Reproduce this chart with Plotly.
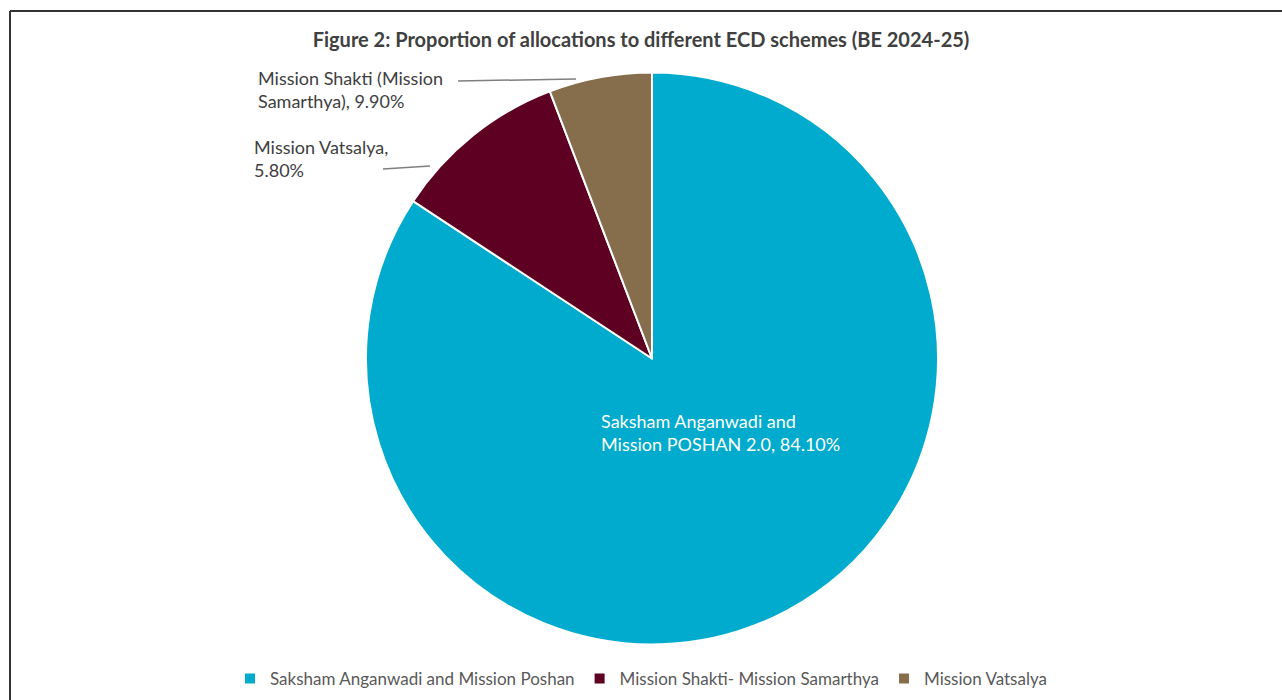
import textwrap
import plotly.graph_objects as go

# Scheme allocations, BE 2024-25 (share of total ECD allocation, %)
legend_names = [
    "Saksham Anganwadi and Mission Poshan",
    "Mission Shakti- Mission Samarthya",
    "Mission Vatsalya",
]
label_names = [
    "Saksham Anganwadi and Mission POSHAN 2.0",
    "Mission Shakti (Mission Samarthya)",
    "Mission Vatsalya",
]
shares = [84.1, 9.9, 5.8]
colors = ["#00ABCD", "#5E0022", "#866D4B"]

W, H = 1282, 700
FONT = "Lato"


def px(x, y):
    """Pixel position -> paper coordinates."""
    return x / W, 1 - y / H


fig = go.Figure(
    go.Pie(
        labels=legend_names,
        values=shares,
        sort=False,
        direction="clockwise",
        rotation=0,
        textinfo="none",
        marker=dict(colors=colors, line=dict(color="white", width=2)),
        domain=dict(x=[366 / W, 938 / W], y=[1 - 645 / H, 1 - 72 / H]),
        showlegend=True,
    )
)

# Data labels: wrap width, anchor pixel position, colour
label_layout = [
    (27, (599, 432.5), "white"),
    (23, (256, 89.5), "#404040"),
    (17, (252, 159), "#404040"),
]
for name, val, (wrap, (lx, ly), col) in zip(label_names, shares, label_layout):
    text = "<br>".join(textwrap.wrap(f"{name}, {val:.2f}%", wrap))
    xx, yy = px(lx, ly)
    fig.add_annotation(
        x=xx, y=yy, xref="paper", yref="paper",
        xanchor="left", yanchor="middle", align="left",
        text=text, showarrow=False,
        font=dict(family=FONT, size=18, color=col),
    )

# Leader lines from the outside labels to the pie
for (x0, y0), (x1, y1) in [((458, 81), (576, 79)), ((383, 169), (430, 166))]:
    a, b = px(x0, y0)
    c, d = px(x1, y1)
    fig.add_shape(type="line", xref="paper", yref="paper", x0=a, y0=b, x1=c, y1=d,
                  line=dict(color="#7f7f7f", width=1.5))

# Frame around the chart area
fx, fy = px(10, 11)
fig.add_shape(type="line", xref="paper", yref="paper",
              x0=fx, y0=fy, x1=1.0, y1=fy,
              line=dict(color="#333333", width=2))
fig.add_shape(type="line", xref="paper", yref="paper",
              x0=fx, y0=fy, x1=fx, y1=0,
              line=dict(color="#333333", width=2))

fig.update_layout(
    width=W, height=H,
    margin=dict(l=0, r=0, t=0, b=0),
    paper_bgcolor="white",
    plot_bgcolor="white",
    font=dict(family=FONT, color="#595959"),
    title=dict(
        text="<b>Figure 2: Proportion of allocations to different ECD schemes (BE 2024-25)</b>",
        x=0.5, xanchor="center", y=1 - 40 / H, yanchor="middle",
        font=dict(family=FONT, size=20, color="#404040"),
    ),
    legend=dict(
        orientation="h", x=0.5, xanchor="center", y=1 - 679 / H, yanchor="middle",
        font=dict(family=FONT, size=17, color="#595959"),
        itemsizing="constant",
    ),
)

fig.write_html("out.html")
